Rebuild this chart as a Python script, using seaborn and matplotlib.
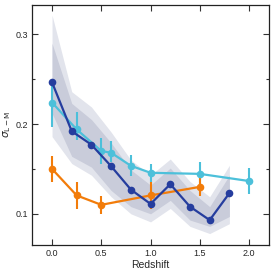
"""Scatter in the L-M relation vs redshift."""

import numpy as np
import pandas as pd
import matplotlib
matplotlib.use("Agg")
import matplotlib.pyplot as plt
import seaborn as sns
from matplotlib.ticker import MultipleLocator

# model curve (dark blue) with two shaded bands
z_model = [0.0, 0.2, 0.4, 0.6, 0.8, 1.0, 1.2, 1.4, 1.6, 1.8]
sig_model = [0.2465, 0.192, 0.177, 0.153, 0.127, 0.111, 0.133, 0.108, 0.093, 0.123]
outer_hi = [0.3215, 0.236, 0.219, 0.191, 0.160, 0.143, 0.161, 0.136, 0.119, 0.154]
outer_lo = [0.186, 0.156, 0.143, 0.119, 0.100, 0.091, 0.106, 0.086, 0.078, 0.089]
inner_hi = [0.290, 0.223, 0.205, 0.179, 0.149, 0.132, 0.151, 0.126, 0.108, 0.143]
inner_lo = [0.212, 0.164, 0.152, 0.126, 0.108, 0.100, 0.115, 0.093, 0.086, 0.097]

# cyan sample
z_cyan = [0.0, 0.25, 0.5, 0.6, 0.8, 1.0, 1.5, 2.0]
sig_cyan = [0.224, 0.194, 0.170, 0.168, 0.1535, 0.1457, 0.1445, 0.1365]
err_cyan_lo = [0.027, 0.012, 0.014, 0.010, 0.0115, 0.010, 0.0135, 0.0145]
err_cyan_hi = [0.0195, 0.019, 0.014, 0.013, 0.012, 0.0095, 0.0135, 0.014]

# orange sample
z_orange = [0.0, 0.25, 0.5, 1.0, 1.5]
sig_orange = [0.150, 0.1205, 0.110, 0.1205, 0.130]
err_orange = [0.0145, 0.015, 0.0097, 0.015, 0.010]

NAVY = "#253d9e"
CYAN = "#4cc0da"
ORANGE = "#f27c0a"

sns.set_style("ticks")
plt.rcParams["font.family"] = ["Liberation Sans", "DejaVu Sans"]
plt.rcParams["mathtext.fontset"] = "dejavusans"

fig = plt.figure(figsize=(2.74, 2.74), dpi=100)
ax = fig.add_axes([0.118, 0.105, 0.863, 0.878])

ax.fill_between(z_model, outer_lo, outer_hi, color="#e2e4ec", lw=0, zorder=1)
ax.fill_between(z_model, inner_lo, inner_hi, color="#c9ccda", lw=0, zorder=1.5)

ax.errorbar(z_cyan, sig_cyan, yerr=[err_cyan_lo, err_cyan_hi], fmt="none",
            ecolor=CYAN, elinewidth=1.5, capsize=0, zorder=2)
ax.errorbar(z_orange, sig_orange, yerr=err_orange, fmt="none",
            ecolor=ORANGE, elinewidth=1.5, capsize=0, zorder=2)

df_c = pd.DataFrame({"z": z_cyan, "sig": sig_cyan})
df_o = pd.DataFrame({"z": z_orange, "sig": sig_orange})
df_m = pd.DataFrame({"z": z_model, "sig": sig_model})
for df, col in [(df_o, ORANGE), (df_c, CYAN), (df_m, NAVY)]:
    sns.lineplot(data=df, x="z", y="sig", ax=ax, color=col, lw=1.6,
                 marker="o", markersize=5.5, markeredgewidth=0, zorder=3,
                 errorbar=None)

ax.set_xlim(-0.2, 2.2)
ax.set_ylim(0.065, 0.333)
ax.xaxis.set_major_locator(MultipleLocator(0.5))
ax.yaxis.set_major_locator(MultipleLocator(0.1))
ax.yaxis.set_minor_locator(MultipleLocator(0.05))
ax.tick_params(which="both", direction="in", top=True, right=True,
               labelsize=6.5, color="#333333", width=0.8, pad=3)
ax.tick_params(which="major", length=4)
ax.tick_params(which="minor", length=2)
for s in ax.spines.values():
    s.set_linewidth(0.9)
    s.set_color("#222222")

ax.set_xlabel("Redshift", fontsize=7.5, labelpad=1)
ax.set_ylabel(r"$\sigma_{\rm L-M}$", fontsize=7.5, labelpad=2)

fig.savefig("out.png", dpi=100)
